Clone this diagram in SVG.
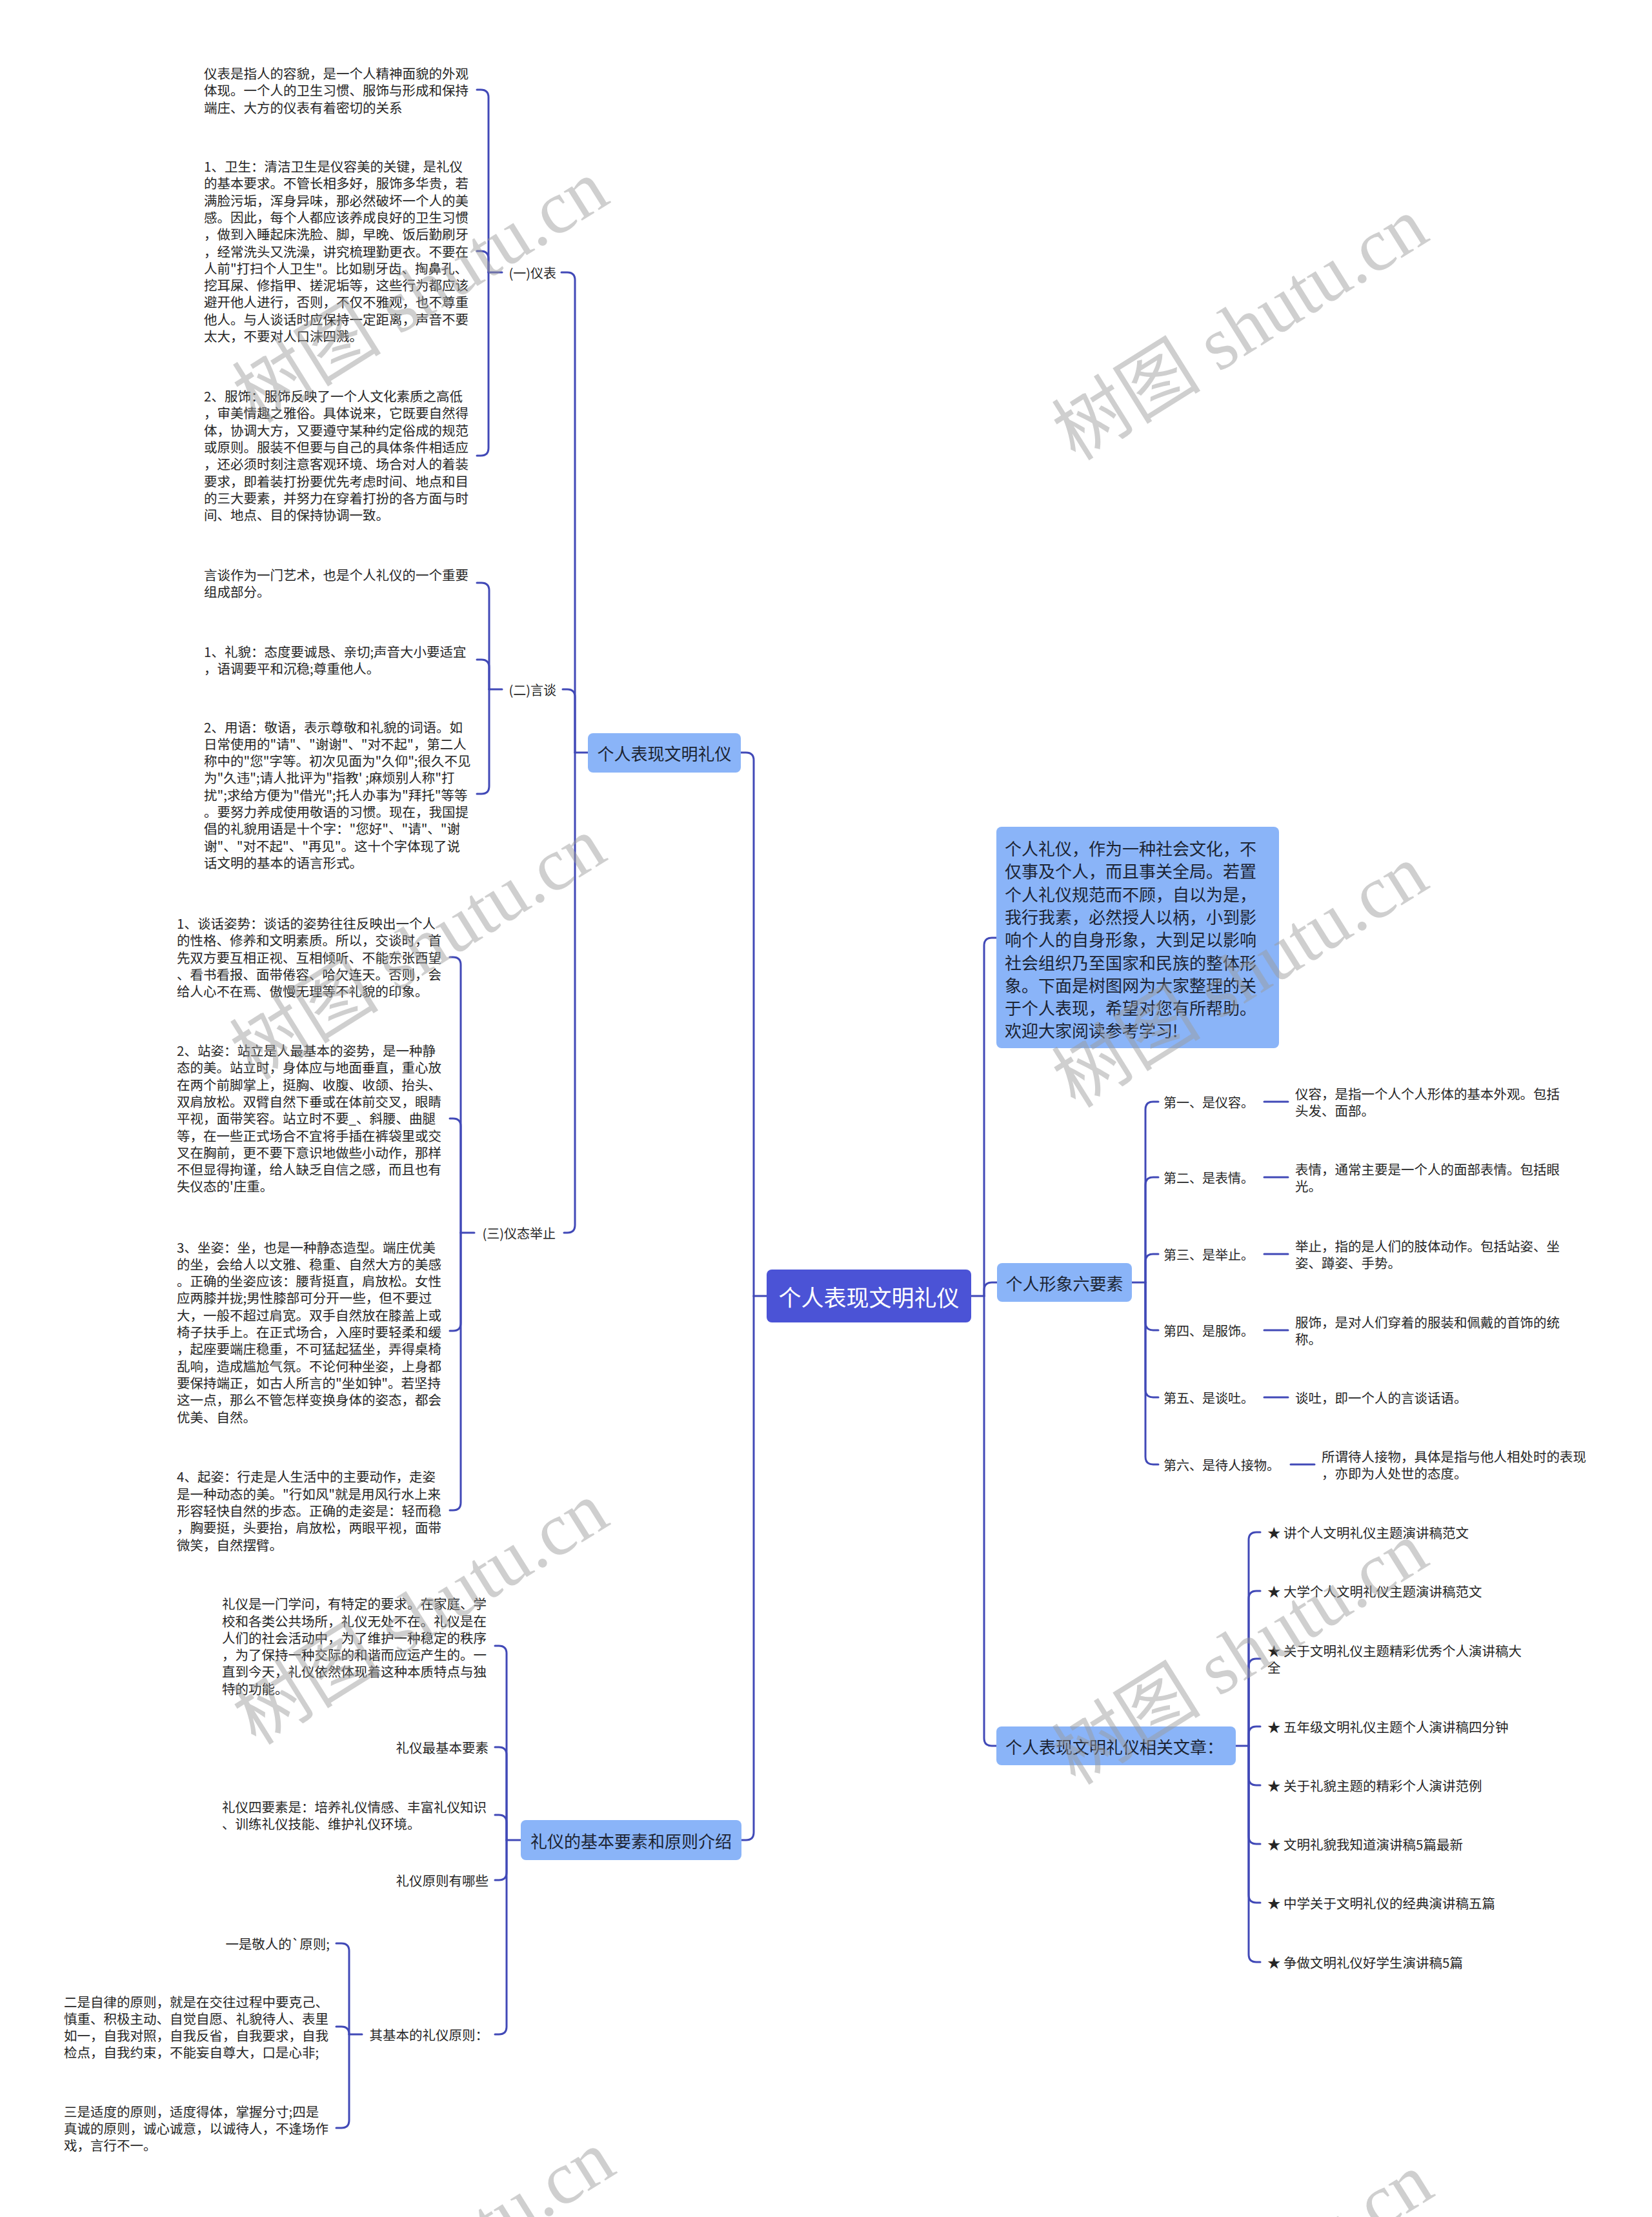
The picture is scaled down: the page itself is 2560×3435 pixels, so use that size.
<svg xmlns="http://www.w3.org/2000/svg" width="2560" height="3435" viewBox="0 0 2560 3435">
<style>
.t{font-family:"Noto Sans CJK SC","Noto Sans",sans-serif;font-size:20.5px;fill:#262626;dominant-baseline:central}
.lb{font-family:"Noto Sans CJK SC","Noto Sans",sans-serif;font-size:20px;fill:#262626;dominant-baseline:central}
.e{text-anchor:end}
.nt{font-family:"Noto Sans CJK SC","Noto Sans",sans-serif;font-size:26px;fill:#1c2433;dominant-baseline:central}
.ct{font-family:"Noto Sans CJK SC","Noto Sans",sans-serif;font-size:35px;fill:#ffffff;dominant-baseline:central;text-anchor:middle}
.ln{fill:#8ab4f8}
.cn{fill:#4b53d6}
.c path{fill:none;stroke:#4149b7;stroke-width:3;stroke-linecap:round}
.wm{font-family:"Liberation Serif","Noto Sans CJK SC",serif;font-size:116px;fill:#9a9a9a;fill-opacity:0.48;text-anchor:middle;dominant-baseline:central}
</style>
<rect width="2560" height="3435" fill="#ffffff"/>
<g id="connectors" class="c">
<path d="M1188,2008 H1168"/>
<path d="M1168,2008 V1178 Q1168,1166 1156,1166 H1148"/>
<path d="M1168,2008 V2839 Q1168,2851 1156,2851 H1149"/>
<path d="M1505,2008 H1525"/>
<path d="M1525,2008 V1465 Q1525,1453 1537,1453 H1544"/>
<path d="M1525,2008 V1999 Q1525,1987 1537,1987 H1545"/>
<path d="M1525,2008 V2693 Q1525,2705 1537,2705 H1544"/>
<path d="M911,1166 H891"/>
<path d="M891,1166 V434 Q891,422 879,422 H870"/>
<path d="M891,1166 V1080 Q891,1068 879,1068 H872"/>
<path d="M891,1166 V1898 Q891,1910 879,1910 H874"/>
<path d="M778,422 H757"/>
<path d="M757,422 V151 Q757,139 745,139 H739"/>
<path d="M757,422 V401 Q757,389 745,389 H739"/>
<path d="M757,422 V694 Q757,706 745,706 H739"/>
<path d="M778,1068 H758"/>
<path d="M758,1068 V915 Q758,903 746,903 H739"/>
<path d="M758,1068 V1034 Q758,1022 746,1022 H739"/>
<path d="M758,1068 V1218 Q758,1230 746,1230 H739"/>
<path d="M735,1910 H714"/>
<path d="M714,1910 V1495 Q714,1483 702,1483 H697"/>
<path d="M714,1910 V1745 Q714,1733 702,1733 H697"/>
<path d="M714,1910 V2050 Q714,2062 702,2062 H697"/>
<path d="M714,1910 V2328 Q714,2340 702,2340 H697"/>
<path d="M807,2851 H785"/>
<path d="M785,2851 V2562 Q785,2550 773,2550 H767"/>
<path d="M785,2851 V2719 Q785,2707 773,2707 H767"/>
<path d="M785,2851 V2824 Q785,2812 773,2812 H767"/>
<path d="M785,2851 V2901 Q785,2913 773,2913 H767"/>
<path d="M785,2851 V3140 Q785,3152 773,3152 H767"/>
<path d="M561,3152 H541"/>
<path d="M541,3152 V3023 Q541,3011 529,3011 H521"/>
<path d="M541,3152 V3152 Q541,3140 529,3140 H521"/>
<path d="M541,3152 V3285 Q541,3297 529,3297 H521"/>
<path d="M1754,1987 H1775"/>
<path d="M1775,1987 V1719 Q1775,1707 1787,1707 H1795"/>
<path d="M1775,1987 V1836 Q1775,1824 1787,1824 H1795"/>
<path d="M1775,1987 V1955 Q1775,1943 1787,1943 H1795"/>
<path d="M1775,1987 V2049 Q1775,2061 1787,2061 H1795"/>
<path d="M1775,1987 V2153 Q1775,2165 1787,2165 H1795"/>
<path d="M1775,1987 V2257 Q1775,2269 1787,2269 H1795"/>
<path d="M1959,1707 H1996"/>
<path d="M1959,1824 H1996"/>
<path d="M1959,1943 H1996"/>
<path d="M1959,2061 H1996"/>
<path d="M1959,2165 H1996"/>
<path d="M2000,2269 H2037"/>
<path d="M1915,2705 H1935"/>
<path d="M1935,2705 V2386 Q1935,2374 1947,2374 H1953"/>
<path d="M1935,2705 V2477 Q1935,2465 1947,2465 H1953"/>
<path d="M1935,2705 V2582 Q1935,2570 1947,2570 H1953"/>
<path d="M1935,2705 V2687 Q1935,2675 1947,2675 H1953"/>
<path d="M1935,2705 V2754 Q1935,2766 1947,2766 H1953"/>
<path d="M1935,2705 V2845 Q1935,2857 1947,2857 H1953"/>
<path d="M1935,2705 V2936 Q1935,2948 1947,2948 H1953"/>
<path d="M1935,2705 V3028 Q1935,3040 1947,3040 H1953"/>
</g>
<g id="center">
<rect class="cn" x="1188" y="1967" width="317" height="82" rx="8"/>
<text class="ct" x="1346.5" y="2008">个人表现文明礼仪</text>
</g>
<g id="branch-left-1">
<rect class="ln" x="911" y="1136" width="237" height="61" rx="8"/>
<text class="nt" x="1029.5" y="1166" text-anchor="middle">个人表现文明礼仪</text>
</g>
<g id="branch-left-2">
<rect class="ln" x="807" y="2820" width="342" height="62" rx="8"/>
<text class="nt" x="978" y="2851" text-anchor="middle">礼仪的基本要素和原则介绍</text>
</g>
<g id="intro">
<rect class="ln" x="1544" y="1281" width="438" height="343" rx="8"/>
<text class="nt">
<tspan x="1557" y="1313">个人礼仪，作为一种社会文化，不</tspan>
<tspan x="1557" y="1348.3">仅事及个人，而且事关全局。若置</tspan>
<tspan x="1557" y="1383.6">个人礼仪规范而不顾，自以为是，</tspan>
<tspan x="1557" y="1418.9">我行我素，必然授人以柄，小到影</tspan>
<tspan x="1557" y="1454.2">响个人的自身形象，大到足以影响</tspan>
<tspan x="1557" y="1489.5">社会组织乃至国家和民族的整体形</tspan>
<tspan x="1557" y="1524.8">象。下面是树图网为大家整理的关</tspan>
<tspan x="1557" y="1560.1">于个人表现，希望对您有所帮助。</tspan>
<tspan x="1557" y="1595.4">欢迎大家阅读参考学习!</tspan>
</text>
</g>
<g id="six">
<rect class="ln" x="1545" y="1957" width="209" height="60" rx="8"/>
<text class="nt" x="1649.5" y="1987" text-anchor="middle">个人形象六要素</text>
</g>
<g id="related">
<rect class="ln" x="1544" y="2675" width="371" height="60" rx="8"/>
<text class="nt" x="1558" y="2705">个人表现文明礼仪相关文章：</text>
</g>
<g id="yibiao">
<text class="lb e" x="862" y="422">(一)仪表</text>
</g>
<g id="yibiao-1">
<text class="t"><tspan x="316" y="113">仪表是指人的容貌，是一个人精神面貌的外观</tspan><tspan x="316" y="139.3">体现。一个人的卫生习惯、服饰与形成和保持</tspan><tspan x="316" y="165.6">端庄、大方的仪表有着密切的关系</tspan></text>
</g>
<g id="yibiao-2">
<text class="t"><tspan x="316" y="257">1、卫生：清洁卫生是仪容美的关键，是礼仪</tspan><tspan x="316" y="283.3">的基本要求。不管长相多好，服饰多华贵，若</tspan><tspan x="316" y="309.6">满脸污垢，浑身异味，那必然破坏一个人的美</tspan><tspan x="316" y="335.9">感。因此，每个人都应该养成良好的卫生习惯</tspan><tspan x="316" y="362.2">，做到入睡起床洗脸、脚，早晚、饭后勤刷牙</tspan><tspan x="316" y="388.5">，经常洗头又洗澡，讲究梳理勤更衣。不要在</tspan><tspan x="316" y="414.8">人前"打扫个人卫生"。比如剔牙齿、掏鼻孔、</tspan><tspan x="316" y="441.1">挖耳屎、修指甲、搓泥垢等，这些行为都应该</tspan><tspan x="316" y="467.4">避开他人进行，否则，不仅不雅观，也不尊重</tspan><tspan x="316" y="493.7">他人。与人谈话时应保持一定距离，声音不要</tspan><tspan x="316" y="520">太大，不要对人口沫四溅。</tspan></text>
</g>
<g id="yibiao-3">
<text class="t"><tspan x="316" y="613">2、服饰：服饰反映了一个人文化素质之高低</tspan><tspan x="316" y="639.3">，审美情趣之雅俗。具体说来，它既要自然得</tspan><tspan x="316" y="665.6">体，协调大方，又要遵守某种约定俗成的规范</tspan><tspan x="316" y="691.9">或原则。服装不但要与自己的具体条件相适应</tspan><tspan x="316" y="718.2">，还必须时刻注意客观环境、场合对人的着装</tspan><tspan x="316" y="744.5">要求，即着装打扮要优先考虑时间、地点和目</tspan><tspan x="316" y="770.8">的三大要素，并努力在穿着打扮的各方面与时</tspan><tspan x="316" y="797.1">间、地点、目的保持协调一致。</tspan></text>
</g>
<g id="yantan">
<text class="lb e" x="862" y="1068">(二)言谈</text>
</g>
<g id="yantan-1">
<text class="t"><tspan x="316" y="890">言谈作为一门艺术，也是个人礼仪的一个重要</tspan><tspan x="316" y="916.3">组成部分。</tspan></text>
</g>
<g id="yantan-2">
<text class="t"><tspan x="316" y="1009">1、礼貌：态度要诚恳、亲切;声音大小要适宜</tspan><tspan x="316" y="1035.3">，语调要平和沉稳;尊重他人。</tspan></text>
</g>
<g id="yantan-3">
<text class="t"><tspan x="316" y="1125.5">2、用语：敬语，表示尊敬和礼貌的词语。如</tspan><tspan x="316" y="1151.8">日常使用的"请"、"谢谢"、"对不起"，第二人</tspan><tspan x="316" y="1178.1">称中的"您"字等。初次见面为"久仰";很久不见</tspan><tspan x="316" y="1204.4">为"久违";请人批评为"指教'  ;麻烦别人称"打</tspan><tspan x="316" y="1230.7">扰";求给方便为"借光";托人办事为"拜托"等等</tspan><tspan x="316" y="1257">。要努力养成使用敬语的习惯。现在，我国提</tspan><tspan x="316" y="1283.3">倡的礼貌用语是十个字："您好"、"请"、"谢</tspan><tspan x="316" y="1309.6">谢"、"对不起"、"再见"。这十个字体现了说</tspan><tspan x="316" y="1335.9">话文明的基本的语言形式。</tspan></text>
</g>
<g id="yitai">
<text class="lb e" x="861" y="1910">(三)仪态举止</text>
</g>
<g id="yitai-1">
<text class="t"><tspan x="274" y="1430">1、谈话姿势：谈话的姿势往往反映出一个人</tspan><tspan x="274" y="1456.3">的性格、修养和文明素质。所以，交谈时，首</tspan><tspan x="274" y="1482.6">先双方要互相正视、互相倾听、不能东张西望</tspan><tspan x="274" y="1508.9">、看书看报、面带倦容、哈欠连天。否则，会</tspan><tspan x="274" y="1535.2">给人心不在焉、傲慢无理等不礼貌的印象。</tspan></text>
</g>
<g id="yitai-2">
<text class="t"><tspan x="274" y="1627">2、站姿：站立是人最基本的姿势，是一种静</tspan><tspan x="274" y="1653.3">态的美。站立时，身体应与地面垂直，重心放</tspan><tspan x="274" y="1679.6">在两个前脚掌上，挺胸、收腹、收颌、抬头、</tspan><tspan x="274" y="1705.9">双肩放松。双臂自然下垂或在体前交叉，眼睛</tspan><tspan x="274" y="1732.2">平视，面带笑容。站立时不要_、斜腰、曲腿</tspan><tspan x="274" y="1758.5">等，在一些正式场合不宜将手插在裤袋里或交</tspan><tspan x="274" y="1784.8">叉在胸前，更不要下意识地做些小动作，那样</tspan><tspan x="274" y="1811.1">不但显得拘谨，给人缺乏自信之感，而且也有</tspan><tspan x="274" y="1837.4">失仪态的'庄重。</tspan></text>
</g>
<g id="yitai-3">
<text class="t"><tspan x="274" y="1931.5">3、坐姿：坐，也是一种静态造型。端庄优美</tspan><tspan x="274" y="1957.8">的坐，会给人以文雅、稳重、自然大方的美感</tspan><tspan x="274" y="1984.1">。正确的坐姿应该：腰背挺直，肩放松。女性</tspan><tspan x="274" y="2010.4">应两膝并拢;男性膝部可分开一些，但不要过</tspan><tspan x="274" y="2036.7">大，一般不超过肩宽。双手自然放在膝盖上或</tspan><tspan x="274" y="2063">椅子扶手上。在正式场合，入座时要轻柔和缓</tspan><tspan x="274" y="2089.3">，起座要端庄稳重，不可猛起猛坐，弄得桌椅</tspan><tspan x="274" y="2115.6">乱响，造成尴尬气氛。不论何种坐姿，上身都</tspan><tspan x="274" y="2141.9">要保持端正，如古人所言的"坐如钟"。若坚持</tspan><tspan x="274" y="2168.2">这一点，那么不管怎样变换身体的姿态，都会</tspan><tspan x="274" y="2194.5">优美、自然。</tspan></text>
</g>
<g id="yitai-4">
<text class="t"><tspan x="274" y="2287.4">4、起姿：行走是人生活中的主要动作，走姿</tspan><tspan x="274" y="2313.7">是一种动态的美。"行如风"就是用风行水上来</tspan><tspan x="274" y="2340">形容轻快自然的步态。正确的走姿是：轻而稳</tspan><tspan x="274" y="2366.3">，胸要挺，头要抬，肩放松，两眼平视，面带</tspan><tspan x="274" y="2392.6">微笑，自然摆臂。</tspan></text>
</g>
<g id="liyi-1">
<text class="t"><tspan x="344" y="2484.2">礼仪是一门学问，有特定的要求。在家庭、学</tspan><tspan x="344" y="2510.5">校和各类公共场所，礼仪无处不在。礼仪是在</tspan><tspan x="344" y="2536.8">人们的社会活动中，为了维护一种稳定的秩序</tspan><tspan x="344" y="2563.1">，为了保持一种交际的和谐而应运产生的。一</tspan><tspan x="344" y="2589.4">直到今天，礼仪依然体现着这种本质特点与独</tspan><tspan x="344" y="2615.7">特的功能。</tspan></text>
</g>
<g id="liyi-2">
<text class="t e" x="757" y="2707">礼仪最基本要素</text>
</g>
<g id="liyi-3">
<text class="t"><tspan x="344" y="2799">礼仪四要素是：培养礼仪情感、丰富礼仪知识</tspan><tspan x="344" y="2825.3">、训练礼仪技能、维护礼仪环境。</tspan></text>
</g>
<g id="liyi-4">
<text class="t e" x="757" y="2913">礼仪原则有哪些</text>
</g>
<g id="liyi-5">
<text class="t e" x="757" y="3152">其基本的礼仪原则：</text>
</g>
<g id="yuanze-1">
<text class="t e" x="511" y="3011">一是敬人的`原则;</text>
</g>
<g id="yuanze-2">
<text class="t"><tspan x="99" y="3100.5">二是自律的原则，就是在交往过程中要克己、</tspan><tspan x="99" y="3126.8">慎重、积极主动、自觉自愿、礼貌待人、表里</tspan><tspan x="99" y="3153.1">如一，自我对照，自我反省，自我要求，自我</tspan><tspan x="99" y="3179.4">检点，自我约束，不能妄自尊大，口是心非;</tspan></text>
</g>
<g id="yuanze-3">
<text class="t"><tspan x="99" y="3270.7">三是适度的原则，适度得体，掌握分寸;四是</tspan><tspan x="99" y="3297">真诚的原则，诚心诚意，以诚待人，不逢场作</tspan><tspan x="99" y="3323.3">戏，言行不一。</tspan></text>
</g>
<g id="six-1"><text class="lb" x="1803" y="1707">第一、是仪容。</text><text class="t"><tspan x="2007" y="1694">仪容，是指一个人个人形体的基本外观。包括</tspan><tspan x="2007" y="1720.3">头发、面部。</tspan></text></g>
<g id="six-2"><text class="lb" x="1803" y="1824">第二、是表情。</text><text class="t"><tspan x="2007" y="1811">表情，通常主要是一个人的面部表情。包括眼</tspan><tspan x="2007" y="1837.3">光。</tspan></text></g>
<g id="six-3"><text class="lb" x="1803" y="1943">第三、是举止。</text><text class="t"><tspan x="2007" y="1930">举止，指的是人们的肢体动作。包括站姿、坐</tspan><tspan x="2007" y="1956.3">姿、蹲姿、手势。</tspan></text></g>
<g id="six-4"><text class="lb" x="1803" y="2061">第四、是服饰。</text><text class="t"><tspan x="2007" y="2048">服饰，是对人们穿着的服装和佩戴的首饰的统</tspan><tspan x="2007" y="2074.3">称。</tspan></text></g>
<g id="six-5"><text class="lb" x="1803" y="2165">第五、是谈吐。</text><text class="t" x="2007" y="2165">谈吐，即一个人的言谈话语。</text></g>
<g id="six-6"><text class="lb" x="1803" y="2269">第六、是待人接物。</text><text class="t"><tspan x="2048" y="2256">所谓待人接物，具体是指与他人相处时的表现</tspan><tspan x="2048" y="2282.3">，亦即为人处世的态度。</tspan></text></g>
<g id="rel-1"><text class="t" x="1964" y="2374">★ 讲个人文明礼仪主题演讲稿范文</text></g>
<g id="rel-2"><text class="t" x="1964" y="2465">★ 大学个人文明礼仪主题演讲稿范文</text></g>
<g id="rel-3"><text class="t"><tspan x="1964" y="2557">★ 关于文明礼仪主题精彩优秀个人演讲稿大</tspan><tspan x="1964" y="2583.3">全</tspan></text></g>
<g id="rel-4"><text class="t" x="1964" y="2675">★ 五年级文明礼仪主题个人演讲稿四分钟</text></g>
<g id="rel-5"><text class="t" x="1964" y="2766">★ 关于礼貌主题的精彩个人演讲范例</text></g>
<g id="rel-6"><text class="t" x="1964" y="2857">★ 文明礼貌我知道演讲稿5篇最新</text></g>
<g id="rel-7"><text class="t" x="1964" y="2948">★ 中学关于文明礼仪的经典演讲稿五篇</text></g>
<g id="rel-8"><text class="t" x="1964" y="3040">★ 争做文明礼仪好学生演讲稿5篇</text></g>
<g id="watermarks">
<text class="wm" transform="translate(652,452) rotate(-32)">树图 shutu.cn</text>
<text class="wm" transform="translate(1922,510) rotate(-32)">树图 shutu.cn</text>
<text class="wm" transform="translate(648,1470) rotate(-32)">树图 shutu.cn</text>
<text class="wm" transform="translate(1922,1513) rotate(-32)">树图 shutu.cn</text>
<text class="wm" transform="translate(652,2500) rotate(-32)">树图 shutu.cn</text>
<text class="wm" transform="translate(1922,2562) rotate(-32)">树图 shutu.cn</text>
<text class="wm" transform="translate(662,3505) rotate(-32)">树图 shutu.cn</text>
<text class="wm" transform="translate(1930,3540) rotate(-32)">树图 shutu.cn</text>
</g>
</svg>
